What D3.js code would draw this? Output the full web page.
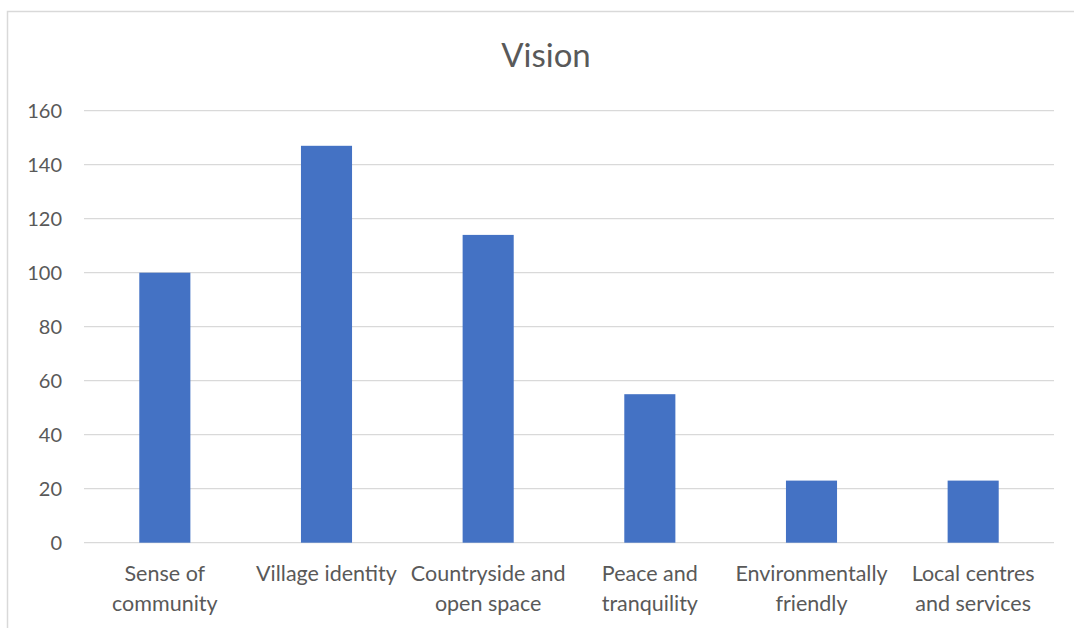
<!DOCTYPE html>
<html><head><meta charset="utf-8">
<script src="https://cdn.jsdelivr.net/npm/d3@7"></script>
<style>
html,body{margin:0;padding:0;background:#fff;}
svg{display:block;}
text{font-family:Lato,"Open Sans",sans-serif;fill:#595959;}
</style></head>
<body>
<svg id="chart" width="1074" height="628"></svg>
<script>
const categories = [["Sense of","community"],["Village identity"],["Countryside and","open space"],["Peace and","tranquility"],["Environmentally","friendly"],["Local centres","and services"]];
const values = [100, 147, 114, 55, 23, 23];
const yTicks = [0, 20, 40, 60, 80, 100, 120, 140, 160];
const title = "Vision";

(function(){
const svg = d3.select("#chart");
const pLeft = 84, pRight = 1054, pTop = 110.7, pBottom = 542.7;

svg.append("rect").attr("x", 7.5).attr("y", 11.5).attr("width", 1100).attr("height", 700)
  .attr("fill", "#fff").attr("stroke", "#d9d9d9").attr("stroke-width", 1.5);

const x = d3.scaleBand().domain(d3.range(categories.length)).range([pLeft, pRight]).padding(0);
const y = d3.scaleLinear().domain([0, 160]).range([pBottom, pTop]);

// gridlines
svg.append("g").selectAll("line").data(yTicks).join("line")
  .attr("x1", pLeft).attr("x2", pRight)
  .attr("y1", d => y(d)).attr("y2", d => y(d))
  .attr("stroke", "#d9d9d9").attr("stroke-width", 1.3);

// y axis labels
const yAxis = d3.axisLeft(y).tickValues(yTicks).tickSize(0).tickPadding(0);
const ya = svg.append("g").attr("transform", `translate(62,0)`).call(yAxis);
ya.select(".domain").remove();
ya.selectAll("text").attr("font-size", 20).attr("font-family", "Lato, 'Open Sans', sans-serif").attr("fill", "#595959").attr("dy", "0.35em");

// bars
const bw = x.bandwidth() * 0.316;
svg.append("g").selectAll("rect").data(values).join("rect")
  .attr("x", (d, i) => x(i) + x.bandwidth() / 2 - bw / 2)
  .attr("y", d => y(d))
  .attr("width", bw)
  .attr("height", d => y(0) - y(d))
  .attr("fill", "#4472c4");

// x labels
const xl = svg.append("g");
categories.forEach((lines, i) => {
  const cx = x(i) + x.bandwidth() / 2;
  const t = xl.append("text").attr("text-anchor", "middle").attr("font-size", 21.5)
    .attr("x", cx).attr("y", 581);
  lines.forEach((ln, j) => t.append("tspan").attr("x", cx).attr("dy", j === 0 ? 0 : 30).text(ln));
});

// title
svg.append("text").attr("x", 546).attr("y", 67).attr("text-anchor", "middle")
  .attr("font-size", 33).text(title);
})();
</script>
</body></html>
